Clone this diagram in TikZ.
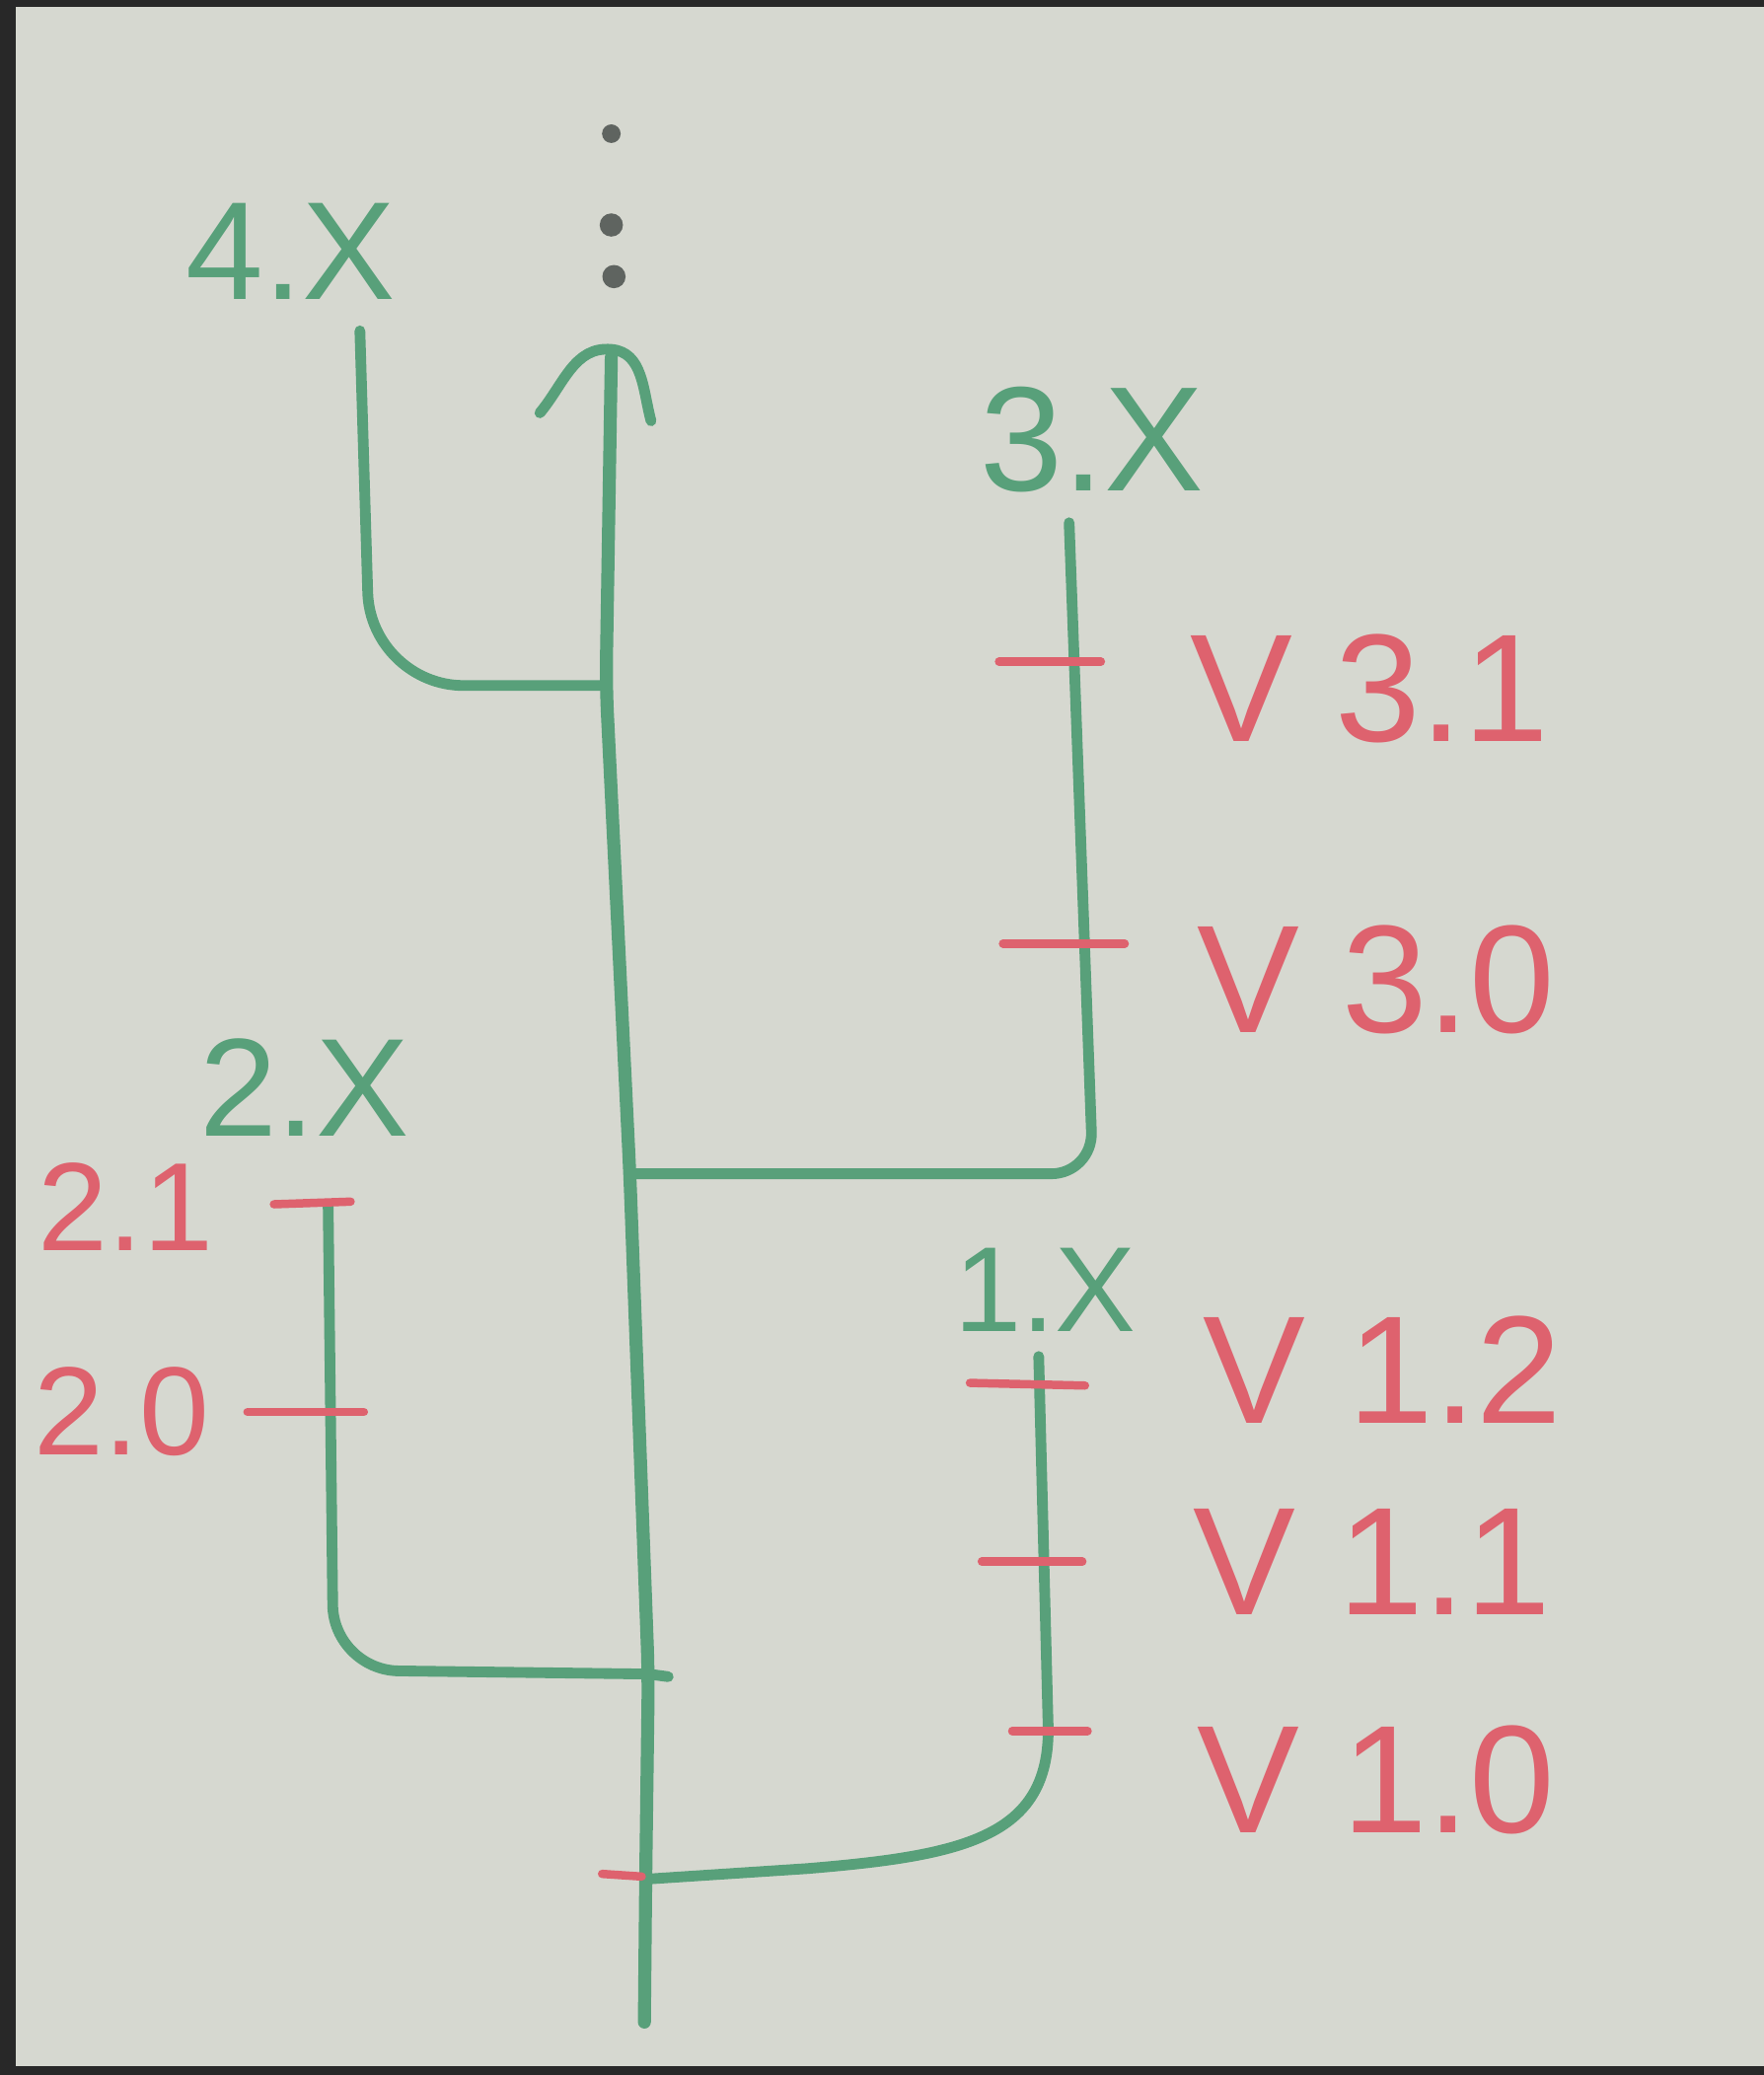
\documentclass[tikz,border=0pt]{standalone}
\usepackage{fontspec}
\setmainfont{Liberation Sans}
\usetikzlibrary{arrows.meta,positioning}
\definecolor{boardBg}{RGB}{214,216,208}
\definecolor{frameDark}{RGB}{40,40,40}
\definecolor{markerGreen}{RGB}{88,160,122}
\definecolor{markerRed}{RGB}{222,98,110}
\definecolor{markerGray}{RGB}{95,100,96}
\tikzset{
  branch/.style={draw=markerGreen, line width=2.3pt, line cap=round, line join=round, rounded corners=20pt},
  trunk/.style={branch, line width=2.8pt, rounded corners=6pt},
  tickmark/.style={draw=markerRed, line width=1.8pt, line cap=round},
  greenlbl/.style={text=markerGreen, inner sep=0pt, font=\fontsize{30}{34}\selectfont},
  redlbl/.style={text=markerRed, inner sep=0pt, font=\fontsize{33}{38}\selectfont},
  leftlbl/.style={redlbl, font=\fontsize{27}{31}\selectfont},
  dotmark/.style={circle, fill=markerGray, inner sep=0pt, minimum size=5pt}
}
\begin{document}
\begin{tikzpicture}[x=0.01cm, y=-0.01cm]
        \useasboundingbox (0,0) rectangle (1333,1568);
        \fill[boardBg] (0,0) rectangle (1333,1568);
        \fill[frameDark] (0,0) rectangle (1333,5);
        \fill[frameDark] (0,0) rectangle (12,1568);
        \fill[frameDark] (0,1561) rectangle (1333,1568);

        \coordinate (tBot) at (487,1528);
        \coordinate (jOne) at (488,1420);
        \coordinate (jTwo) at (490,1265);
        \coordinate (jThree) at (476,887);
        \coordinate (jFour) at (458,518);
        \coordinate (tTop) at (462,270);
        \coordinate (arrowL) at (408,312);
        \coordinate (arrowR) at (492,318);

        \node[dotmark, minimum size=4pt] (dotA) at (462,101) {};
        \node[dotmark] (dotB) at (462,170) {};
        \node[dotmark] (dotC) at (464,209) {};

        \node[greenlbl] (lblFour) at (220,190) {4.X};
        \node[greenlbl, font=\fontsize{32}{36}\selectfont] (lblThree) at (825,332) {3.X};
        \node[greenlbl] (lblTwo) at (230,822) {2.X};
        \node[greenlbl, font=\fontsize{26}{30}\selectfont] (lblOne) at (790,975) {1.X};

        \coordinate (topFour) at (272,250);
        \coordinate (topThree) at (808,395);
        \coordinate (topTwo) at (248,910);
        \coordinate (topOne) at (785,1025);

        \draw[trunk] (tBot) -- (jOne) -- (jTwo) -- (jThree) -- (jFour) -- (tTop);
        \draw[branch, sharp corners] (arrowL) to[out=50, in=175] (462,264) to[out=-5, in=105] (arrowR);

        \draw[branch] (topFour) -- (280,518) -- (jFour);
        \draw[branch, rounded corners=9pt] (topThree) -- (826,887) -- (jThree);
        \draw[branch, rounded corners=14pt] (topTwo) -- (252,1262) [sharp corners] -- (jTwo) -- (505,1267);
        \draw[branch, sharp corners] (topOne) -- (792,1300) .. controls (796,1388) and (730,1402) .. (610,1412) -- (jOne);

        \draw[tickmark] (755,500) -- (832,500);
        \draw[tickmark] (758,713) -- (850,713);
        \draw[tickmark] (207,910) -- (265,908);
        \draw[tickmark] (187,1067) -- (275,1067);
        \draw[tickmark] (733,1045) -- (820,1047);
        \draw[tickmark] (742,1180) -- (818,1180);
        \draw[tickmark] (765,1308) -- (822,1308);
        \draw[tickmark] (455,1416) -- (485,1418);

        \node[redlbl] (vThreeOne) at (1035,520) {V 3.1};
        \node[redlbl] (vThreeZero) at (1040,740) {V 3.0};
        \node[redlbl] (vOneTwo) at (1045,1035) {V 1.2};
        \node[redlbl] (vOneOne) at (1037,1180) {V 1.1};
        \node[redlbl] (vOneZero) at (1040,1345) {V 1.0};
        \node[leftlbl] (vTwoOne) at (95,912) {2.1};
        \node[leftlbl] (vTwoZero) at (92,1067) {2.0};
\end{tikzpicture}
\end{document}
